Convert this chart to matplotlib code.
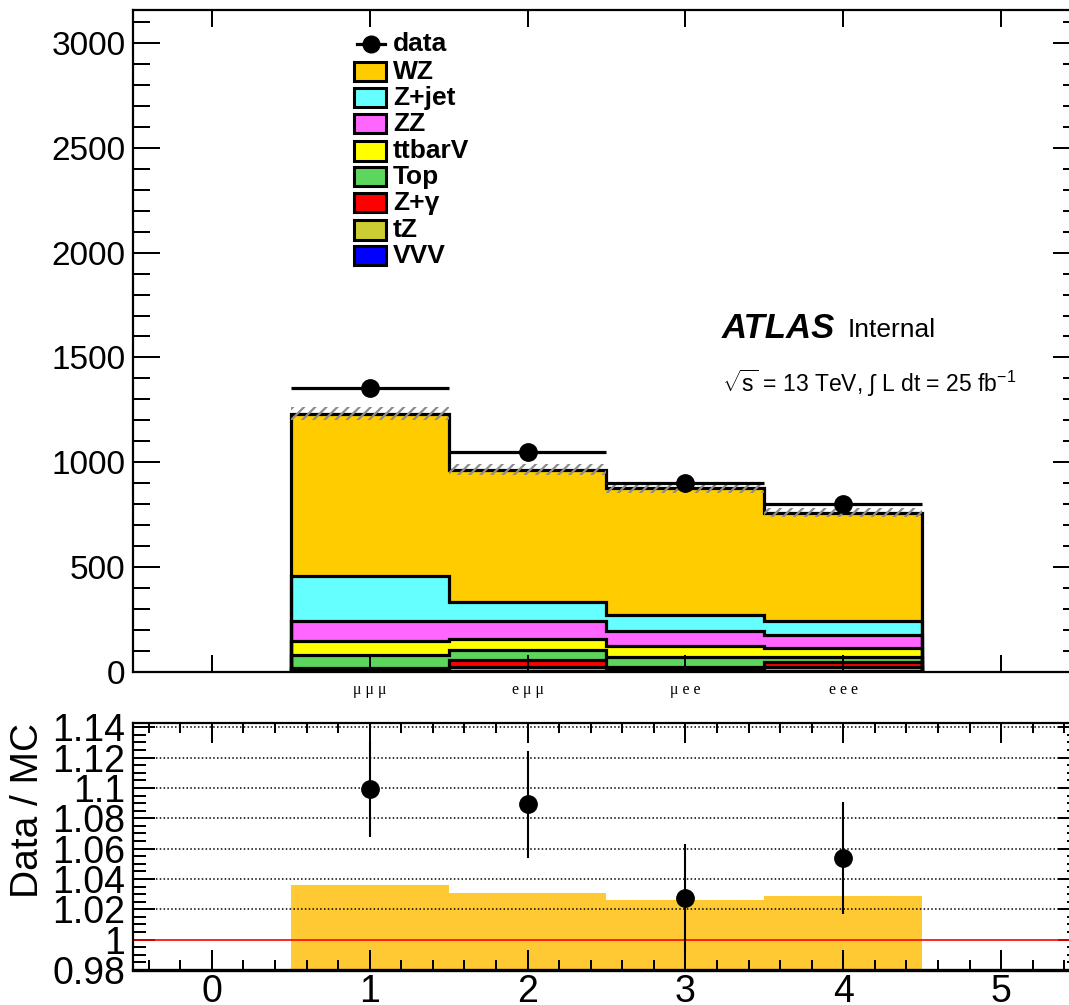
import numpy as np
import matplotlib
matplotlib.use("Agg")
import matplotlib.pyplot as plt
from matplotlib.ticker import MultipleLocator, FormatStrFormatter, NullLocator
from matplotlib.patches import Rectangle
from matplotlib.lines import Line2D

plt.rcParams['font.family'] = ['Liberation Sans', 'DejaVu Sans']
plt.rcParams['mathtext.fontset'] = 'custom'
plt.rcParams['mathtext.rm'] = 'Liberation Sans'
plt.rcParams['mathtext.it'] = 'Liberation Sans:italic'
plt.rcParams['hatch.linewidth'] = 1.6

# ---- channel binning -------------------------------------------------------
channels = ['μ μ μ', 'e μ μ', 'μ e e', 'e e e']
bin_centers = [1, 2, 3, 4]
bin_edges = [0.5, 1.5, 2.5, 3.5, 4.5]

# ---- background yields per channel (stacked bottom -> top) -----------------
vvv = [3, 4, 3, 3]
tz = [8, 20, 10, 19]
zgamma = [8, 33, 10, 28]
top = [64, 48, 50, 20]
ttbarv = [67, 50, 51, 43]
zz = [95, 86, 72, 62]
zjet = [212, 94, 76, 67]
wz = [774, 629, 604, 518]

# absolute MC uncertainty (hatched band) and relative band for the ratio
mc_unc = [31, 26, 24, 22]
ratio_band = [0.036, 0.031, 0.026, 0.029]

# ---- observed data ---------------------------------------------------------
data = [1353, 1050, 900, 801]
data_err = [39, 34, 31, 28]

samples = ['VVV', 'tZ', 'Z+γ', 'Top', 'ttbarV', 'ZZ', 'Z+jet', 'WZ']
yields = [vvv, tz, zgamma, top, ttbarv, zz, zjet, wz]
colors = ['#0000ff', '#cccc33', '#ff0000', '#5cd65c',
          '#ffff00', '#ff66ff', '#66ffff', '#ffcc00']

W, H = 1069, 1005
fig = plt.figure(figsize=(W / 100, H / 100), dpi=100)


def fx(x):
    return x / W


def fy(y):
    return 1 - y / H


ax = fig.add_axes([fx(133), fy(672), (1080 - 133) / W, (672 - 10) / H])
rx = fig.add_axes([fx(133), fy(970), (1080 - 133) / W, (970 - 723) / H])

edges = np.array(bin_edges, dtype=float)
cum = np.cumsum(np.array(yields, dtype=float), axis=0)
mc_total = cum[-1]

# stacked histograms: draw from the tallest cumulative down
for i in range(len(samples) - 1, -1, -1):
    ax.stairs(cum[i], edges, baseline=0, fill=True, color=colors[i],
              zorder=1)
    ax.stairs(cum[i], edges, baseline=0, fill=False, color='black',
              lw=2.3, zorder=1.2)

# hatched MC uncertainty
unc = np.array(mc_unc, dtype=float)
ax.stairs(mc_total + unc, edges, baseline=mc_total - unc, fill=True,
          facecolor='none', edgecolor='#8c8c8c', hatch='///', lw=0,
          zorder=1.5)

# data points
ax.errorbar(bin_centers, data, xerr=0.5, yerr=data_err, fmt='o',
            color='black', ms=12.5, elinewidth=2.3, capsize=0, zorder=4)

ax.set_xlim(-0.5, 5.5)
ax.set_ylim(0, 3157)
ax.yaxis.set_major_locator(MultipleLocator(500))
ax.yaxis.set_minor_locator(MultipleLocator(100))
ax.set_xticks(range(0, 6))
ax.set_xticklabels([''] + channels + [''], family=['Liberation Serif', 'DejaVu Serif'],
                   fontsize=11.5)
ax.xaxis.set_minor_locator(NullLocator())
ax.tick_params(axis='y', which='major', direction='in', length=19.4, width=1.44,
               left=True, right=True, labelsize=24, pad=5.5)
ax.tick_params(axis='y', which='minor', direction='in', length=12.2, width=1.44,
               left=True, right=True)
ax.tick_params(axis='x', which='major', direction='in', length=12.2, width=1.44,
               top=True, bottom=True, pad=7)
for s in ax.spines.values():
    s.set_linewidth(1.6)

# ---- ratio panel -----------------------------------------------------------
band = np.array(ratio_band, dtype=float)
rx.stairs(1 + band, edges, baseline=1 - band, fill=True, color='#ffc933',
          lw=0, zorder=1)
for yv in np.arange(1.02, 1.15, 0.02):
    rx.axhline(yv, color='black', lw=1.1, ls=(0, (1, 1.5)), zorder=1.5)
rx.axhline(1.0, color='#ff0000', lw=1.2, zorder=2)

ratio = np.array(data) / mc_total
ratio_err = np.array(data_err) / mc_total
rx.errorbar(bin_centers, ratio, yerr=ratio_err, fmt='o', color='black',
            ms=12.5, elinewidth=1.5, capsize=0, zorder=4)

rx.set_xlim(-0.5, 5.5)
rx.set_ylim(0.98, 1.1428)
rx.yaxis.set_major_locator(MultipleLocator(0.02))
rx.yaxis.set_minor_locator(MultipleLocator(0.005))
rx.yaxis.set_major_formatter(FormatStrFormatter('%g'))
rx.xaxis.set_major_locator(MultipleLocator(1))
rx.xaxis.set_minor_locator(MultipleLocator(0.2))
rx.tick_params(axis='y', which='major', direction='in', length=15.8, width=1.44,
               left=True, right=True, labelsize=27, pad=5.5)
rx.tick_params(axis='y', which='minor', direction='in', length=9.4, width=1.44,
               left=True, right=True)
rx.tick_params(axis='x', which='major', direction='in', length=14.4, width=1.44,
               top=True, bottom=True, labelsize=27, pad=3)
rx.tick_params(axis='x', which='minor', direction='in', length=7.2, width=1.44,
               top=True, bottom=True)
for s in rx.spines.values():
    s.set_linewidth(1.6)
rx.spines['bottom'].set_linewidth(2.4)
fig.text(fx(28), fy(810), 'Data / MC', rotation=90, ha='center', va='center',
         fontsize=28)

# ---- legend ----------------------------------------------------------------
leg_x0, leg_x1, txt_x = 354, 386, 393
fig.add_artist(Line2D([fx(357), fx(385)], [fy(44), fy(44)], color='black', lw=2.3))
fig.add_artist(Line2D([fx(371)], [fy(44)], marker='o', ms=12, color='black'))
fig.text(fx(txt_x), fy(44), 'data', fontsize=19, fontweight='bold',
         ha='left', va='center')
leg_rows = [72, 98, 124, 151, 177, 203, 230, 256]
for row, i in zip(leg_rows, range(len(samples) - 1, -1, -1)):
    fig.add_artist(Rectangle((fx(leg_x0), fy(row + 9.5)), fx(leg_x1 - leg_x0),
                             19 / H, facecolor=colors[i], edgecolor='black',
                             lw=2.2))
    fig.text(fx(txt_x), fy(row), samples[i], fontsize=19, fontweight='bold',
             ha='left', va='center')

# ---- labels ----------------------------------------------------------------
fig.text(fx(722), fy(328), 'ATLAS', fontsize=25, fontweight='bold',
         fontstyle='italic', ha='left', va='center')
fig.text(fx(848), fy(330), 'Internal', fontsize=19, ha='left', va='center')
fig.text(fx(722), fy(383),
         r'$\sqrt{\mathrm{s}}$ = 13 TeV, $\int$ L dt = 25 fb$^{-1}$',
         fontsize=16.5, ha='left', va='center')

fig.savefig('out.png', dpi=100)
